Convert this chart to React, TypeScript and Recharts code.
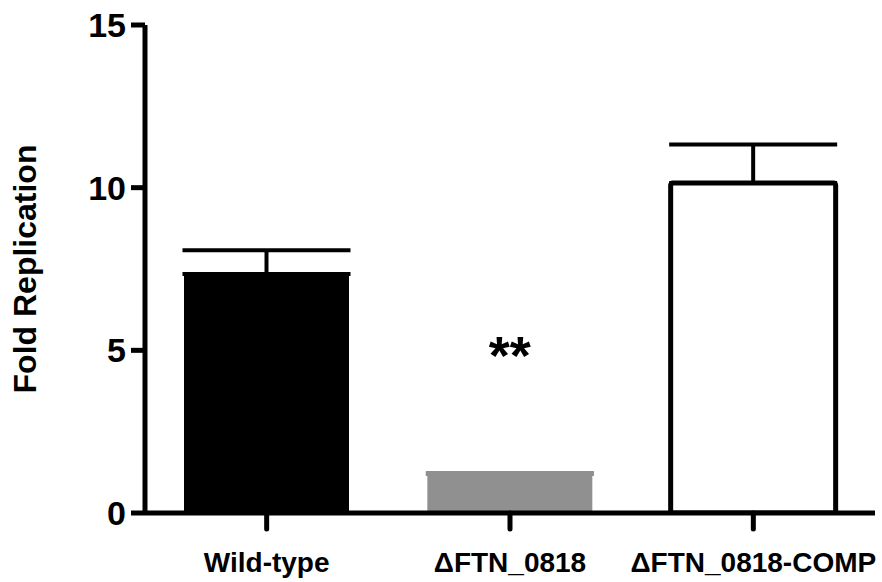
import React from 'react';
import { BarChart, Bar, XAxis, YAxis, ErrorBar, Cell, LabelList } from 'recharts';

// values
const categories = ['Wild-type', '\u0394FTN_0818', '\u0394FTN_0818-COMP'];
const foldReplication = [7.35, 1.2, 10.14];
const sem = [0.73, 0.03, 1.19];
const significance = ['', '**', ''];
const yTicks = [0, 5, 10, 15];

const barFills = ['#000000', '#909090', '#ffffff'];
const barStrokes = ['none', 'none', '#000000'];
const grayError = [false, true, false];

// only upward whiskers, split in two so the gray bar gets a gray whisker
const data = categories.map((name, i) => ({
  name,
  value: foldReplication[i],
  errDark: grayError[i] ? undefined : [0, sem[i]],
  errGray: grayError[i] ? [0, sem[i]] : undefined,
  sig: significance[i],
}));

const font = '"Liberation Sans", Arial, Helvetica, sans-serif';

const App = () => {
  return (
    <div style={{ position: 'absolute', left: 0, top: 0 }}>
      <BarChart
        width={882}
        height={582}
        data={data}
        margin={{ top: 25, right: 7, bottom: 0, left: 0 }}
        style={{ fontFamily: font }}
      >
        <XAxis
          dataKey="name"
          height={69}
          axisLine={{ stroke: '#000', strokeWidth: 5 }}
          tickLine={{ stroke: '#000', strokeWidth: 5, strokeLinecap: 'round' }}
          tickSize={16}
          tickMargin={23}
          tick={{ fill: '#000', fontSize: 28, fontWeight: 'bold', fontFamily: font }}
          interval={0}
        />
        <YAxis
          width={145}
          domain={[0, 15]}
          ticks={yTicks}
          allowDataOverflow
          axisLine={{ stroke: '#000', strokeWidth: 5 }}
          tickLine={{ stroke: '#000', strokeWidth: 5 }}
          tickSize={14}
          tickMargin={5}
          tick={{ fill: '#000', fontSize: 34, fontWeight: 'bold', fontFamily: font }}
          label={{
            value: 'Fold Replication',
            angle: -90,
            position: 'insideLeft',
            offset: 25,
            style: { textAnchor: 'middle', fontSize: 32, fontWeight: 'bold', fill: '#000', fontFamily: font },
          }}
        />
        <Bar dataKey="value" barSize={165} radius={2} isAnimationActive={false}>
          {data.map((d, i) => (
            <Cell key={d.name} fill={barFills[i]} stroke={barStrokes[i]} strokeWidth={5} />
          ))}
          <ErrorBar dataKey="errDark" width={84} stroke="#000" strokeWidth={4} isAnimationActive={false} />
          <ErrorBar dataKey="errGray" width={84} stroke="#909090" strokeWidth={4} isAnimationActive={false} />
          <LabelList
            dataKey="sig"
            position="top"
            offset={100}
            style={{ fontSize: 54, fontWeight: 'bold', fill: '#000', fontFamily: font }}
          />
        </Bar>
      </BarChart>
    </div>
  );
};

export default App;
